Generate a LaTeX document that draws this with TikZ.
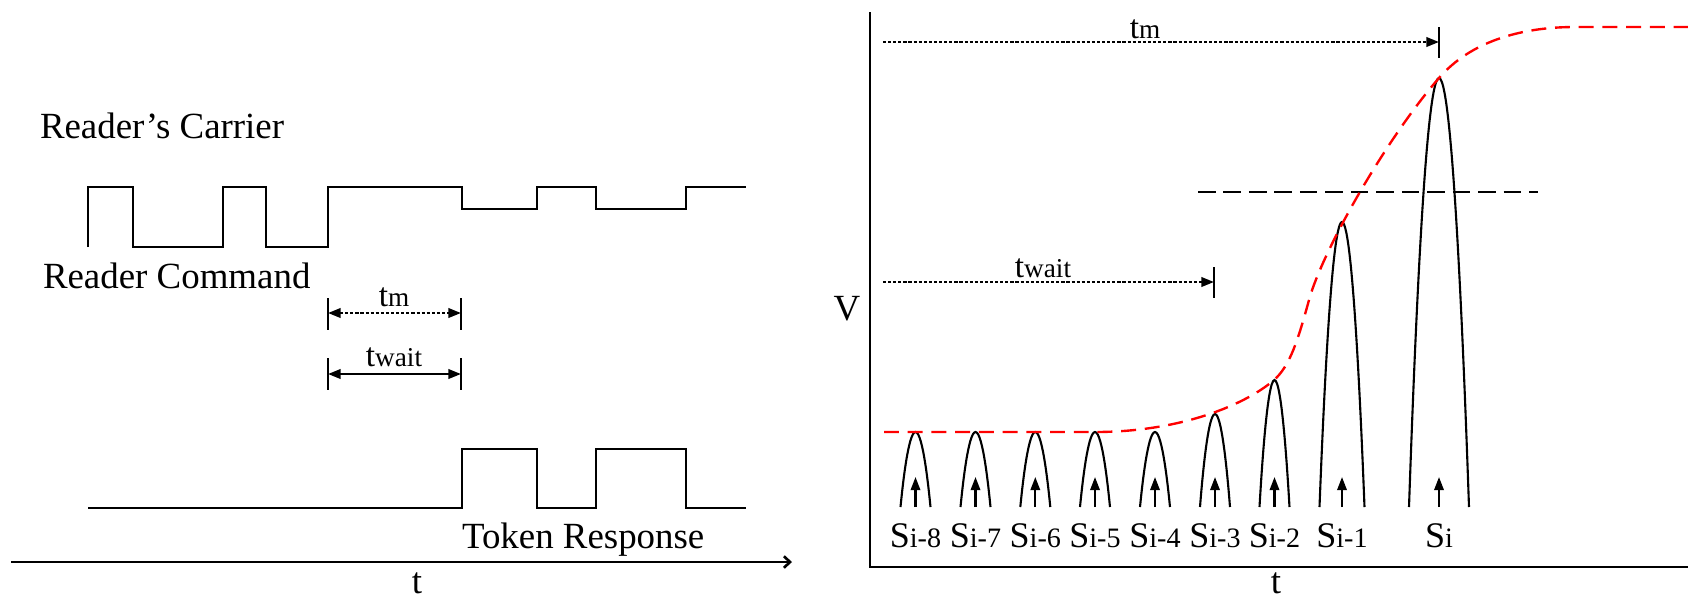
\documentclass[tikz,border=0pt]{standalone}
\usepackage{fontspec}
\setmainfont{Liberation Serif}
\usetikzlibrary{arrows.meta}
% signal label S with a smaller index, time label t with a smaller suffix
\newcommand{\sigS}[1]{{\fontsize{20.5}{24}\selectfont S\fontsize{16}{19}\selectfont #1}}
\newcommand{\timeT}[1]{{\fontsize{19}{22}\selectfont t\fontsize{15.5}{18}\selectfont #1}}

\begin{document}
\begin{tikzpicture}[x=0.02cm,y=-0.02cm,
  >={Triangle[length=7.2pt,width=5.4pt]},
  every node/.style={inner sep=0pt,outer sep=0pt},
  title/.style={font=\fontsize{21}{25}\selectfont,anchor=base west},
  axislabel/.style={font=\fontsize{21}{25}\selectfont,anchor=base},
  small/.style={anchor=base},
  wave/.style={line width=1.4pt,line join=miter},
  axis/.style={line width=1.5pt},
  tickmark/.style={line width=1.3pt},
  dotrule/.style={line width=1.3pt,dash pattern=on 1.8pt off 1.1pt},
  solidrule/.style={line width=1.3pt},
  pulse/.style={line width=1.2pt},
  pointer/.style={line width=1.2pt,-{Triangle[length=7.5pt,width=5.4pt]}},
  envelope/.style={red,line width=1.35pt,dash pattern=on 8.5pt off 5pt},
  level/.style={line width=1.4pt,dash pattern=on 10pt off 4.5pt}]

\useasboundingbox (0,0) rectangle (1688,600);

% ---------------- left: reader / token waveforms ----------------
\node[title] (carrier) at (40,138) {Reader’s Carrier};
\node[title] (command) at (43,288) {Reader Command};
\node[title] (token) at (462,548) {Token Response};

% reader command on the carrier
\draw[wave] (88,247) |- (133,187) |- (223,247) |- (266,187) |- (328,247)
  |- (462,187) |- (537,209) |- (596,187) |- (686,209) |- (746,187);

% token response
\draw[wave] (88,508) -| (462,449) -| (537,508) -| (596,449) -| (686,508) -- (746,508);

% tm and twait intervals
\coordinate (tmA) at (328,313);
\coordinate (tmB) at (461,313);
\coordinate (twA) at (328,374);
\coordinate (twB) at (461,374);
\draw[tickmark] (328,298) -- (328,330) (461,298) -- (461,330);
\draw[tickmark] (328,358) -- (328,390) (461,358) -- (461,390);
\draw[dotrule,<->] (tmA) -- (tmB);
\draw[solidrule,<->] (twA) -- (twB);
\node[small] (tmLeft) at (394,306) {\timeT{m}};
\node[small] (twLeft) at (394,366) {\timeT{wait}};

% time axis
\coordinate (tAxisA) at (11,562);
\coordinate (tAxisB) at (792,562);
\draw[axis,-{Straight Barb[length=3.5pt,width=6.5pt]}] (tAxisA) -- (tAxisB);
\node[axislabel] (tLeft) at (417,593) {t};

% ---------------- right: sampled voltage ----------------
\coordinate (vTop) at (870,12);
\coordinate (origin) at (870,567);
\coordinate (tEnd) at (1688,567);
\draw[axis] (vTop) -- (origin) -- (tEnd);
\node[axislabel] (vLabel) at (847,320) {V};
\node[axislabel] (tRight) at (1276,593) {t};

% tm and twait markers
\coordinate (rtmA) at (883,42);
\coordinate (rtmB) at (1439,42);
\coordinate (rtwA) at (883,282);
\coordinate (rtwB) at (1214,282);
\draw[tickmark] (1439,27) -- (1439,58);
\draw[tickmark] (1214,267) -- (1214,298);
\draw[dotrule,->] (rtmA) -- (rtmB);
\draw[dotrule,->] (rtwA) -- (rtwB);
\node[small] (tmRight) at (1145,38) {\timeT{m}};
\node[small] (twRight) at (1043,277) {\timeT{wait}};

% threshold level
\coordinate (thA) at (1198,192);
\coordinate (thB) at (1538,192);
\draw[level] (thA) -- (thB);

% sample pulses with their labels
\foreach \x/\top/\hw/\lab [count=\k] in
  {915.5/432/15/i-8, 975.5/432/15/i-7, 1035.3/432/15/i-6, 1095/432/15/i-5,
   1155/432/15/i-4, 1215/414/15/i-3, 1274.5/380/15/i-2, 1342/222/22.5/i-1,
   1439/78/30/i} {
  \draw[pulse] (\x-\hw,507) parabola bend (\x,\top) (\x+\hw,507);
  \coordinate (base\k) at (\x,507);
  \coordinate (head\k) at (\x,477);
  \draw[pointer] (base\k) -- (head\k);
  \node[small] (sample\k) at (\x,547) {\sigS{\lab}};
}

% envelope of the pulse peaks
\draw[envelope] (884,432) -- (1095,432)
  .. controls (1180,432) and (1245,405) .. (1274,380)
  .. controls (1290,366) and (1298,340) .. (1309,300)
  .. controls (1322,252) and (1385,140) .. (1439,78)
  .. controls (1470,42) and (1520,27) .. (1575,27) -- (1688,27);

\end{tikzpicture}
\end{document}
